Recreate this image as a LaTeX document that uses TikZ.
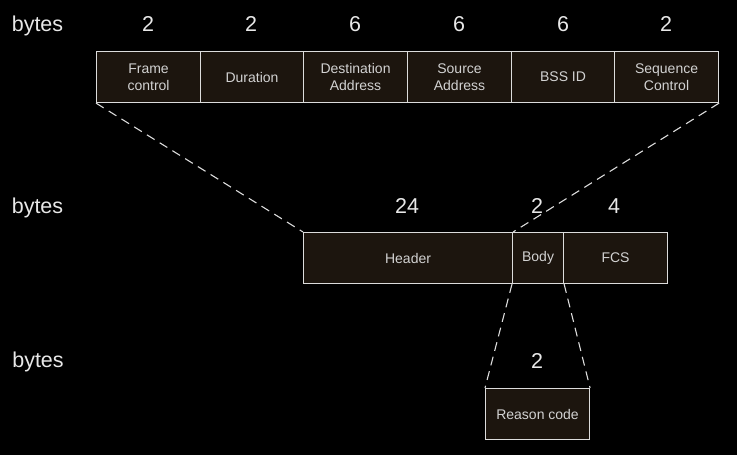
\documentclass[tikz,border=0pt]{standalone}
\usepackage{fontspec}
\setmainfont{Liberation Sans}
\begin{document}
\begin{tikzpicture}[x=1pt,y=-1pt,
  fld/.style={draw=boxline, fill=boxfill, line width=1.1pt, text=boxtext, font=\fontsize{14}{17}\selectfont, align=center, inner sep=0pt, anchor=north west},
  num/.style={text=numtext, font=\fontsize{21.5}{24}\selectfont, inner sep=0pt, anchor=base},
  zoomline/.style={draw=boxline, line width=1.1pt, dash pattern=on 9pt off 6pt}]
\definecolor{boxfill}{HTML}{1C150E}
\definecolor{boxline}{HTML}{DCDCDC}
\definecolor{boxtext}{HTML}{D2D2D2}
\definecolor{numtext}{HTML}{E8E8E8}
\fill[black] (0,0) rectangle (737,455);
\useasboundingbox (0,0) rectangle (737,455);
% labels
\node[num] (b1) at (37.5,31) {bytes};
\node[num] (b2) at (37.5,213) {bytes};
\node[num] (b3) at (38,367) {bytes};
% top row
\node[fld, minimum width=104pt, minimum height=51pt] (fc) at (96,51) {Frame\\control};
\node[fld, minimum width=103pt, minimum height=51pt] (du) at (200,51) {Duration};
\node[fld, minimum width=104pt, minimum height=51pt] (da) at (303,51) {Destination\\Address};
\node[fld, minimum width=104pt, minimum height=51pt] (sa) at (407,51) {Source\\Address};
\node[fld, minimum width=103pt, minimum height=51pt] (bs) at (511,51) {BSS ID};
\node[fld, minimum width=104pt, minimum height=51pt] (sc) at (614,51) {Sequence\\Control};
\node[num] (n1) at (148,31) {2};
\node[num] (n2) at (251,31) {2};
\node[num] (n3) at (355,31) {6};
\node[num] (n4) at (459,31) {6};
\node[num] (n5) at (563,31) {6};
\node[num] (n6) at (666,31) {2};
% middle row
\node[fld, minimum width=209pt, minimum height=51pt] (hd) at (303,232) {Header};
\node[fld, minimum width=51pt, minimum height=51pt] (bd) at (512,232) {Body};
\node[fld, minimum width=104pt, minimum height=51pt] (fcs) at (563,232) {FCS};
\node[num] (m1) at (407,213) {24};
\node[num] (m2) at (537,213) {2};
\node[num] (m3) at (614,213) {4};
% bottom row
\node[fld, minimum width=104pt, minimum height=51pt] (rc) at (485,388) {Reason code};
\node[num] (r1) at (537,368) {2};
% zoom lines
\draw[zoomline] (fc.south west) -- (hd.north west);
\draw[zoomline] (sc.south east) -- (hd.north east);
\draw[zoomline] (bd.south west) -- (rc.north west);
\draw[zoomline] (bd.south east) -- (rc.north east);
\end{tikzpicture}
\end{document}
